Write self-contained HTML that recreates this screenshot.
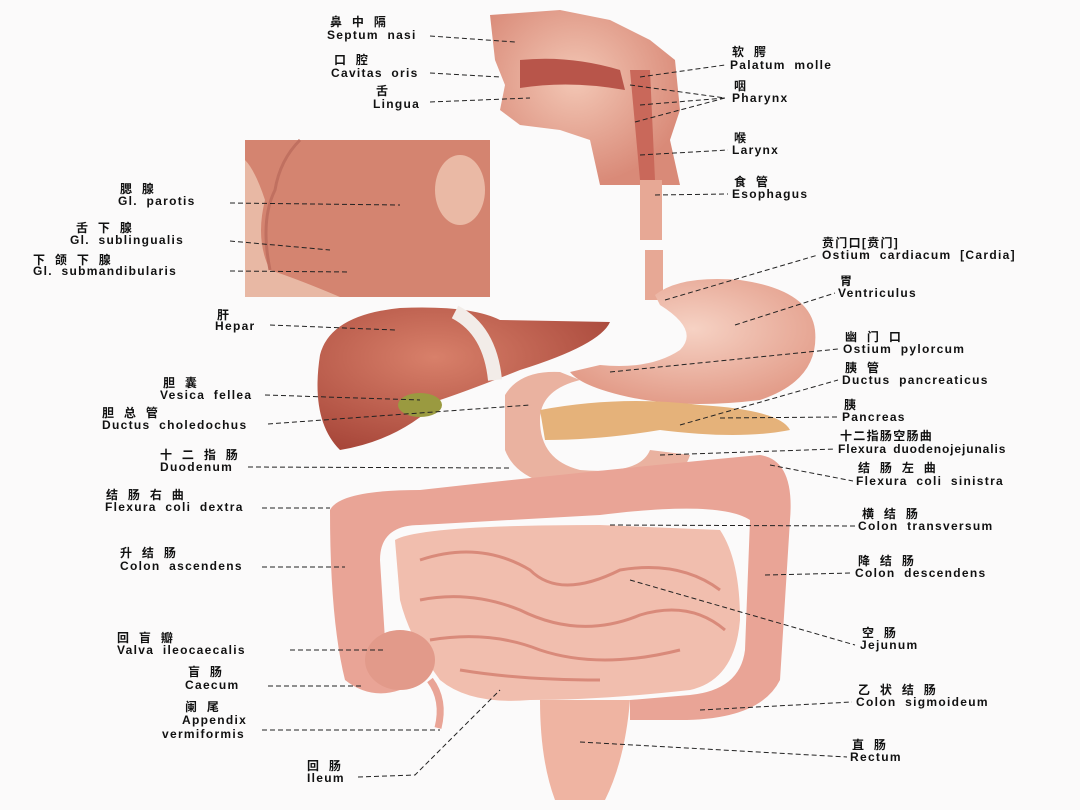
<!DOCTYPE html>
<html><head><meta charset="utf-8"><style>
html,body{margin:0;padding:0;background:#fbfafa;}
svg{display:block}
text{font-family:"Liberation Sans","Noto Sans CJK SC",sans-serif;font-weight:bold;font-size:12px;letter-spacing:1.3px;word-spacing:4px;fill:#111;}
.d{stroke:#222;stroke-width:1;stroke-dasharray:5,3;fill:none}
</style></head><body>
<svg width="1080" height="810" viewBox="0 0 1080 810">
<rect width="1080" height="810" fill="#fbfafa"/>
<defs>
<radialGradient id="g1" cx="45%" cy="40%" r="60%"><stop offset="0" stop-color="#f3c7b5"/><stop offset="1" stop-color="#d98a78"/></radialGradient>
<radialGradient id="lv" cx="40%" cy="35%" r="70%"><stop offset="0" stop-color="#d8806a"/><stop offset="1" stop-color="#a8473a"/></radialGradient>
<radialGradient id="st" cx="50%" cy="40%" r="60%"><stop offset="0" stop-color="#f6d2c4"/><stop offset="1" stop-color="#e39d8a"/></radialGradient>
</defs>
<path d="M490 15 L560 10 L610 20 L650 40 L675 60 L680 110 L670 140 L680 185 L600 185 L590 140 L560 130 L520 125 L500 110 L505 85 L495 60 Z" fill="url(#g1)"/>
<path d="M520 60 Q570 55 620 70 L625 90 Q570 80 520 88 Z" fill="#b8554a"/>
<path d="M630 70 L650 70 L655 180 L640 180 Z" fill="#c9685a"/>
<rect x="245" y="140" width="245" height="157" fill="#e8b8a4"/>
<path d="M245 140 L490 140 L490 297 L340 297 Q300 280 270 270 Q255 240 265 200 Q255 170 245 160 Z" fill="#d48470"/>
<ellipse cx="460" cy="190" rx="25" ry="35" fill="#eab9a5"/>
<path d="M300 140 Q280 160 275 190 Q260 220 270 270" stroke="#c07060" stroke-width="3" fill="none"/>
<rect x="640" y="180" width="22" height="60" fill="#e7a895"/>
<rect x="645" y="250" width="18" height="50" fill="#e7a895"/>
<path d="M655 295 Q680 275 740 280 Q810 290 815 330 Q820 380 760 400 Q680 410 620 395 Q580 385 570 372 L600 365 Q650 370 680 350 Q700 330 660 305 Z" fill="url(#st)"/>
<path d="M320 355 Q330 315 400 308 Q470 305 500 320 L610 322 Q600 345 520 370 Q470 390 440 400 Q400 440 340 450 Q310 420 320 355 Z" fill="url(#lv)"/>
<path d="M455 312 Q490 330 495 380" stroke="#f2ece8" stroke-width="14" fill="none"/>
<ellipse cx="420" cy="405" rx="22" ry="12" fill="#9a9a40"/>
<path d="M505 395 Q520 370 560 372 L580 380 Q540 390 540 420 Q540 460 580 470 Q640 475 650 450 L690 455 Q680 490 600 490 Q520 490 505 450 Z" fill="#eab2a0"/>
<path d="M540 410 Q620 395 700 405 Q780 410 790 430 Q740 440 660 430 Q600 440 545 440 Z" fill="#e5b27a"/>
<path d="M330 510 Q340 490 420 490 Q600 470 760 455 Q795 460 790 520 Q785 600 780 680 Q760 720 680 720 L630 720 L630 700 L690 695 Q740 690 745 650 L750 520 Q720 500 600 515 L420 525 Q380 525 380 560 L385 640 Q395 650 400 690 Q370 700 345 680 Q330 620 330 510 Z" fill="#e9a496"/>
<path d="M395 540 Q420 525 600 525 L720 530 Q740 560 740 620 Q735 680 690 690 Q600 700 530 700 Q470 705 440 680 Q410 640 400 600 Z" fill="#f1beae"/>
<g stroke="#d98a7a" stroke-width="3" fill="none">
<path d="M420 560 Q480 540 530 570 Q560 600 620 570 Q680 560 720 590"/>
<path d="M420 600 Q470 590 520 610 Q580 640 640 615 Q690 600 725 630"/>
<path d="M430 640 Q490 630 540 650 Q600 670 680 650"/>
<path d="M460 670 Q520 680 600 680"/>
</g>
<ellipse cx="400" cy="660" rx="35" ry="30" fill="#e29a8a"/>
<path d="M430 680 Q445 700 438 728" stroke="#e9a496" stroke-width="7" fill="none"/>
<path d="M540 700 L630 700 Q625 760 605 800 L555 800 Q540 760 540 700 Z" fill="#efb4a2"/>

<g class="d">
<line x1="430" y1="36" x2="515" y2="42"/>
<line x1="430" y1="73" x2="500" y2="77"/>
<line x1="430" y1="102" x2="530" y2="98"/>
<line x1="230" y1="203" x2="400" y2="205"/>
<line x1="230" y1="241" x2="330" y2="250"/>
<line x1="230" y1="271" x2="350" y2="272"/>
<line x1="270" y1="325" x2="395" y2="330"/>
<line x1="265" y1="395" x2="420" y2="400"/>
<line x1="268" y1="424" x2="530" y2="405"/>
<line x1="248" y1="467" x2="510" y2="468"/>
<line x1="262" y1="508" x2="330" y2="508"/>
<line x1="262" y1="567" x2="345" y2="567"/>
<line x1="290" y1="650" x2="385" y2="650"/>
<line x1="268" y1="686" x2="362" y2="686"/>
<line x1="262" y1="730" x2="440" y2="730"/>
<polyline points="358,777 415,775 500,690"/>
<line x1="640" y1="77" x2="725" y2="65"/>
<line x1="630" y1="85" x2="725" y2="98"/>
<line x1="640" y1="105" x2="725" y2="98"/>
<line x1="635" y1="122" x2="725" y2="98"/>
<line x1="640" y1="155" x2="728" y2="150"/>
<line x1="655" y1="195" x2="728" y2="194"/>
<line x1="665" y1="300" x2="818" y2="255"/>
<line x1="735" y1="325" x2="835" y2="293"/>
<line x1="610" y1="372" x2="838" y2="349"/>
<line x1="680" y1="425" x2="838" y2="380"/>
<line x1="720" y1="418" x2="838" y2="417"/>
<line x1="660" y1="455" x2="835" y2="449"/>
<line x1="770" y1="465" x2="853" y2="481"/>
<line x1="610" y1="525" x2="855" y2="526"/>
<line x1="765" y1="575" x2="852" y2="573"/>
<line x1="630" y1="580" x2="855" y2="645"/>
<line x1="700" y1="710" x2="852" y2="702"/>
<line x1="580" y1="742" x2="847" y2="757"/>
</g>

<text x="330" y="26">鼻 中 隔</text><text x="327" y="39">Septum nasi</text>
<text x="334" y="64">口 腔</text><text x="331" y="77">Cavitas oris</text>
<text x="376" y="95">舌</text><text x="373" y="108">Lingua</text>
<text x="120" y="193">腮 腺</text><text x="118" y="205">Gl. parotis</text>
<text x="76" y="232">舌 下 腺</text><text x="70" y="244">Gl. sublingualis</text>
<text x="33" y="264">下 颌 下 腺</text><text x="33" y="275">Gl. submandibularis</text>
<text x="217" y="319">肝</text><text x="215" y="330">Hepar</text>
<text x="163" y="387">胆 囊</text><text x="160" y="399">Vesica fellea</text>
<text x="102" y="417">胆 总 管</text><text x="102" y="429">Ductus choledochus</text>
<text x="160" y="459">十 二 指 肠</text><text x="160" y="471">Duodenum</text>
<text x="106" y="499">结 肠 右 曲</text><text x="105" y="511">Flexura coli dextra</text>
<text x="120" y="557">升 结 肠</text><text x="120" y="570">Colon ascendens</text>
<text x="117" y="642">回 盲 瓣</text><text x="117" y="654">Valva ileocaecalis</text>
<text x="188" y="676">盲 肠</text><text x="185" y="689">Caecum</text>
<text x="185" y="711">阑 尾</text><text x="182" y="724">Appendix</text><text x="162" y="738">vermiformis</text>
<text x="307" y="770">回 肠</text><text x="307" y="782">Ileum</text>

<text x="732" y="56">软 腭</text><text x="730" y="69">Palatum molle</text>
<text x="734" y="90">咽</text><text x="732" y="102">Pharynx</text>
<text x="734" y="142">喉</text><text x="732" y="154">Larynx</text>
<text x="734" y="186">食 管</text><text x="732" y="198">Esophagus</text>
<text x="822" y="247">贲门口[贲门]</text><text x="822" y="259">Ostium cardiacum [Cardia]</text>
<text x="840" y="285">胃</text><text x="838" y="297">Ventriculus</text>
<text x="845" y="341">幽 门 口</text><text x="843" y="353">Ostium pylorcum</text>
<text x="845" y="372">胰 管</text><text x="842" y="384">Ductus pancreaticus</text>
<text x="844" y="409">胰</text><text x="842" y="421">Pancreas</text>
<text x="840" y="440">十二指肠空肠曲</text><text x="838" y="453" style="letter-spacing:0.9px;word-spacing:2px">Flexura duodenojejunalis</text>
<text x="858" y="472">结 肠 左 曲</text><text x="856" y="485">Flexura coli sinistra</text>
<text x="862" y="518">横 结 肠</text><text x="858" y="530">Colon transversum</text>
<text x="858" y="565">降 结 肠</text><text x="855" y="577">Colon descendens</text>
<text x="862" y="637">空 肠</text><text x="860" y="649">Jejunum</text>
<text x="858" y="694">乙 状 结 肠</text><text x="856" y="706">Colon sigmoideum</text>
<text x="852" y="749">直 肠</text><text x="850" y="761">Rectum</text>
</svg>
</body></html>
